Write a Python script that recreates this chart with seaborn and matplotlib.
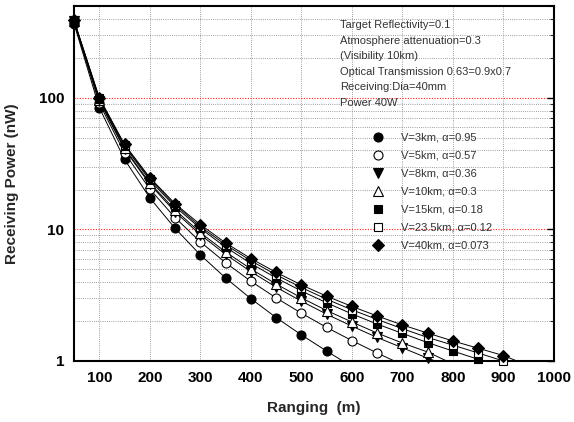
import matplotlib
matplotlib.use("Agg")
import matplotlib.pyplot as plt
import seaborn as sns
from matplotlib.lines import Line2D
from matplotlib.ticker import FixedLocator, FixedFormatter, MultipleLocator, NullFormatter

# --- data (receiving power in nW vs range in m) ---
ranging = [50, 100, 150, 200, 250, 300, 350, 400, 450, 500,
           550, 600, 650, 700, 750, 800, 850, 900, 950]

p_3km = [368, 84.4, 34.1, 17.4, 10.2, 6.41, 4.28, 2.98, 2.14, 1.58, 1.19, 0.906, 0.70]
p_5km = [376, 91.0, 38.2, 20.3, 12.3, 8.05, 5.59, 4.04, 3.02, 2.31, 1.80, 1.43, 1.15, 0.937]
p_8km = [382, 94.9, 40.7, 22.1, 13.6, 9.13, 6.47, 4.78, 3.64, 2.85, 2.27, 1.84, 1.51, 1.26,
         1.05, 0.896]
p_10km = [384, 96.1, 41.4, 22.6, 14.1, 9.46, 6.75, 5.01, 3.85, 3.02, 2.42, 1.98, 1.63, 1.37,
          1.17, 0.95]
p_15km = [386, 98.4, 42.9, 23.7, 14.9, 10.2, 7.34, 5.52, 4.28, 3.41, 2.77, 2.28, 1.91, 1.62,
          1.38, 1.19, 1.03, 0.91]
p_23km = [388, 99.6, 43.7, 24.3, 15.4, 10.5, 7.66, 5.79, 4.52, 3.62, 2.95, 2.45, 2.07, 1.76,
          1.51, 1.32, 1.15, 1.0, 0.90]
p_40km = [390, 100.5, 44.3, 24.8, 15.7, 10.9, 7.91, 6.01, 4.72, 3.79, 3.11, 2.60, 2.20, 1.88,
          1.63, 1.42, 1.25, 1.10, 0.92]

series_labels = ["V=3km, α=0.95", "V=5km, α=0.57", "V=8km, α=0.36", "V=10km, α=0.3",
                 "V=15km, α=0.18", "V=23.5km, α=0.12", "V=40km, α=0.073"]
series_values = [p_3km, p_5km, p_8km, p_10km, p_15km, p_23km, p_40km]
series_markers = ["o", "o", "v", "^", "s", "s", "D"]
series_faces = ["black", "white", "black", "white", "black", "white", "black"]
series_sizes = [6.5, 6.5, 7, 7, 6, 6, 6]

notes = ["Target Reflectivity=0.1",
         "Atmosphere attenuation=0.3",
         "(Visibility 10km)",
         "Optical Transmission 0.63=0.9x0.7",
         "Receiving:Dia=40mm",
         "Power 40W"]

sns.set_style("white")
plt.rcParams["font.family"] = ["Liberation Sans", "DejaVu Sans"]

W, H = 574, 422
fig = plt.figure(figsize=(W / 100, H / 100), dpi=100)
ax = fig.add_axes([74 / W, 61 / H, 480 / W, 355 / H])

handles = []
for lab, vals, mk, fc, ms in zip(series_labels, series_values, series_markers,
                                 series_faces, series_sizes):
    xs = ranging[:len(vals)]
    # the curve itself, clipped at the axes
    sns.lineplot(x=xs, y=vals, ax=ax, color="black", linewidth=0.7, legend=False)
    # markers drawn unclipped, only for points inside the plotted range
    shown = [(x, v) for x, v in zip(xs, vals) if v >= 0.98]
    sns.lineplot(x=[p[0] for p in shown], y=[p[1] for p in shown], ax=ax,
                 color="black", linestyle="none", marker=mk, markersize=ms,
                 markerfacecolor=fc, markeredgecolor="black", markeredgewidth=0.8,
                 legend=False, clip_on=False, zorder=3)
    handles.append(Line2D([], [], linestyle="none", marker=mk, markersize=ms,
                          markerfacecolor=fc, markeredgecolor="black",
                          markeredgewidth=0.8, label=lab))

ax.set_yscale("log")
ax.set_xlim(50, 1000)
ax.set_ylim(1, 500)

ax.yaxis.set_major_locator(FixedLocator([1, 10, 100]))
ax.yaxis.set_major_formatter(FixedFormatter(["1", "10", "100"]))
minor_y = [m * 10 ** k for k in range(3) for m in range(2, 10) if m * 10 ** k <= 500]
ax.yaxis.set_minor_locator(FixedLocator(minor_y))
ax.yaxis.set_minor_formatter(NullFormatter())
ax.xaxis.set_major_locator(MultipleLocator(100))
ax.xaxis.set_minor_locator(MultipleLocator(20))

grid_style = dict(linestyle=(0, (1, 1.6)), linewidth=0.6)
ax.grid(which="major", axis="x", color="#808080", **grid_style)
ax.grid(which="minor", axis="y", color="#808080", **grid_style)
ax.grid(which="major", axis="y", color="#ff2020", linestyle=(0, (1, 1.4)), linewidth=0.8)

for s in ax.spines.values():
    s.set_color("black")
    s.set_linewidth(1.5)

ax.tick_params(axis="both", which="major", direction="in", length=5, width=1,
               labelsize=11, colors="black", right=True)
ax.tick_params(axis="both", which="minor", direction="in", length=3, width=0.8,
               right=True)
ax.tick_params(axis="x", which="major", pad=7)
ax.tick_params(axis="y", which="major", pad=7)
for t in ax.get_xticklabels() + ax.get_yticklabels():
    t.set_fontweight("bold")

ax.set_xlabel("Ranging  (m)", fontsize=11, fontweight="bold", labelpad=12)
ax.set_ylabel("Receiving Power (nW)", fontsize=11, fontweight="bold", labelpad=14)

for i, line in enumerate(notes):
    fig.text(340 / W, 1 - (25 + 15.6 * i) / H, line, fontsize=8, color="#333333",
             va="center", ha="left")

leg = ax.legend(handles=handles, loc="upper left",
                bbox_to_anchor=(372 / W, 1 - 133 / H), bbox_transform=fig.transFigure,
                frameon=False, fontsize=8, handlelength=1.0, handletextpad=1.6,
                labelspacing=0.72, borderpad=0, borderaxespad=0)
for t in leg.get_texts():
    t.set_color("#333333")

fig.savefig("out.png", dpi=100)
